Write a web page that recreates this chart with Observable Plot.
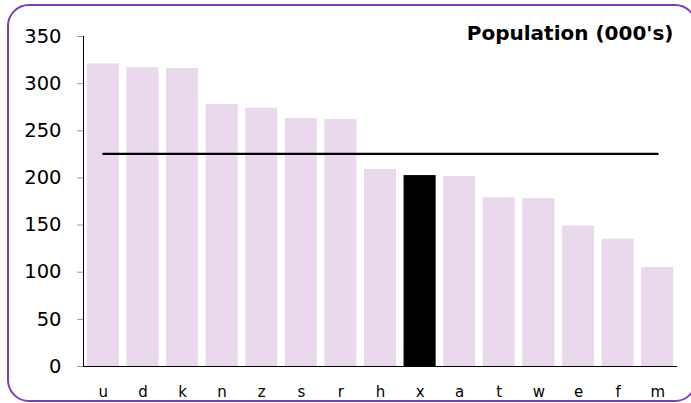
<!DOCTYPE html>
<html>
<head>
<meta charset="utf-8">
<script src="https://cdn.jsdelivr.net/npm/d3@7"></script>
<script src="https://cdn.jsdelivr.net/npm/@observablehq/plot@0.6"></script>
<style>
  html, body { margin: 0; padding: 0; background: #fff; }
  #wrap { position: relative; width: 691px; height: 403px; overflow: hidden; font-family: "DejaVu Sans", Verdana, sans-serif; }
  #border { position: absolute; left: 7px; top: 4px; width: 686px; height: 394px; border: 2px solid #7b3fb8; border-radius: 22px; box-sizing: content-box; pointer-events: none; }
  #chart { position: absolute; left: 0; top: 0; }
</style>
</head>
<body>
<div id="wrap"><div id="chart"></div><div id="border"></div></div>
<script>
const categories = ["u","d","k","n","z","s","r","h","x","a","t","w","e","f","m"];
const population = [321, 317, 316, 278, 274, 263, 262, 209, 202.5, 201.5, 179, 178, 149, 135, 105];
const highlighted = "x";
const average = 225.5;
const yTicks = [0, 50, 100, 150, 200, 250, 300, 350];
const title = "Population (000's)";

const data = categories.map((c, i) => ({name: c, value: population[i]}));
const first = categories[0], last = categories[categories.length - 1];

const chart = Plot.plot({
  width: 691,
  height: 403,
  marginLeft: 83,
  marginRight: 14,
  marginTop: 36,
  marginBottom: 37,
  style: {fontFamily: "'DejaVu Sans', Verdana, sans-serif", background: "transparent"},
  x: {domain: categories, paddingInner: 0.19, paddingOuter: 0.095, round: false, label: null},
  y: {domain: [0, 350], label: null},
  marks: [
    Plot.barY(data, {x: "name", y: "value", fill: d => d.name === highlighted ? "#000000" : "#ead9ec"}),
    Plot.line([{name: first, value: average}, {name: last, value: average}], {x: "name", y: "value", stroke: "#000", strokeWidth: 2.2}),
    Plot.ruleY([0], {stroke: "#000", strokeWidth: 1}),
    Plot.frame({anchor: "left", stroke: "#000", strokeWidth: 1}),
    Plot.axisY({ticks: yTicks, tickSize: 6, tickPadding: 16, stroke: "#999", fontSize: 19.5, fill: "#000", tickFormat: d => String(d)}),
    Plot.axisX({tickSize: 0, tickPadding: 20, fontSize: 15, fill: "#000"}),
    Plot.text([title], {frameAnchor: "top-right", dx: -4, dy: -3, fontSize: 20, fontWeight: "bold", textAnchor: "end", lineAnchor: "middle", fill: "#000"})
  ]
});
document.getElementById("chart").appendChild(chart);
</script>
</body>
</html>
